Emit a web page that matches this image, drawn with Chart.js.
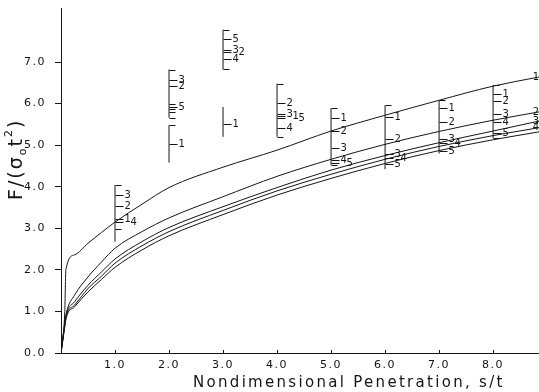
<!DOCTYPE html>
<html>
<head>
<meta charset="utf-8">
<script src="https://cdn.jsdelivr.net/npm/chart.js@4/dist/chart.umd.min.js"></script>
<style>
html, body { margin: 0; padding: 0; background: #fff; }
#wrap { width: 539px; height: 392px; }
</style>
</head>
<body>
<div id="wrap"><canvas id="penChart"></canvas></div>
<script>
// curve 1 rises almost vertically near the origin, so it has its own x list
const curve1X = [0, 0.07, 0.09, 0.25, 0.5, 0.75, 1, 1.5, 2, 3, 4, 5, 6, 7, 8, 8.85];
const curve1Y = [0, 1.0, 2.0, 2.36, 2.64, 2.9, 3.15, 3.58, 3.98, 4.47, 4.88, 5.34, 5.72, 6.08, 6.42, 6.64];

const curveX  = [0, 0.05, 0.1, 0.25, 0.5, 0.75, 1, 1.5, 2, 3, 4, 5, 6, 7, 8, 8.85];
const curve2Y = [0, 0.55, 0.97, 1.39, 1.83, 2.19, 2.52, 2.92, 3.25, 3.76, 4.25, 4.66, 5.02, 5.33, 5.6, 5.8];
const curve3Y = [0, 0.5, 0.93, 1.23, 1.63, 1.95, 2.26, 2.68, 3.02, 3.52, 3.98, 4.4, 4.75, 5.06, 5.34, 5.58];
const curve4Y = [0, 0.48, 0.9, 1.15, 1.55, 1.85, 2.16, 2.58, 2.92, 3.43, 3.9, 4.3, 4.66, 4.97, 5.23, 5.42];
const curve5Y = [0, 0.45, 0.86, 1.11, 1.47, 1.77, 2.06, 2.48, 2.82, 3.33, 3.8, 4.2, 4.56, 4.87, 5.13, 5.32];
const curveNames = ['1', '2', '3', '4', ''];

// measured scatter ranges at each penetration
const rangeX  = [1, 2, 2, 3, 3, 4, 5, 6, 7, 8];
const rangeLo = [2.68, 5.66, 4.58, 6.82, 5.2, 5.2, 4.52, 4.42, 4.8, 5.17];
const rangeHi = [4.04, 6.82, 5.48, 7.78, 5.92, 6.48, 5.89, 5.96, 6.08, 6.44];

// tick marks on the ranges, with case number
const markX = [1, 1, 1, 1, 1, 1,
  2, 2, 2, 2, 2, 2, 2, 2, 2, 2,
  3, 3, 3, 3, 3, 3, 3,
  4, 4, 4, 4, 4, 4, 4,
  5, 5, 5, 5, 5, 5, 5,
  6, 6, 6, 6, 6, 6,
  7, 7, 7, 7, 7, 7,
  8, 8, 8, 8, 8, 8, 8];
const markY = [4.04, 3.81, 3.53, 3.22, 3.14, 2.98,
  6.82, 6.56, 6.42, 6.0, 5.93, 5.87, 5.8, 5.66, 5.48, 5.02,
  7.76, 7.55, 7.3, 7.24, 7.08, 6.84, 5.52,
  6.47, 6.02, 5.76, 5.7, 5.66, 5.42, 5.2,
  5.89, 5.65, 5.33, 4.92, 4.64, 4.58, 4.52,
  5.96, 5.68, 5.16, 4.78, 4.68, 4.55,
  6.08, 5.9, 5.56, 5.14, 5.06, 4.86,
  6.44, 6.24, 6.06, 5.74, 5.56, 5.3, 5.17];
const markText = ['', '3', '2', '1', '4', '',
  '', '3', '2', '', '5', '', '', '', '', '1',
  '', '5', '3', '2', '4', '', '1',
  '', '2', '3', '1', '5', '4', '',
  '', '1', '2', '3', '4', '5', '',
  '', '1', '2', '3', '4', '5',
  '', '1', '2', '3', '4', '5',
  '', '1', '2', '3', '4', '5', ''];

const xTicks = [1, 2, 3, 4, 5, 6, 7, 8];
const yTicks = [0, 1, 2, 3, 4, 5, 6, 7];

const ink = '#151515';

function curve(xs, ys) {
    return {
        data: xs.map((x, i) => ({ x: x, y: ys[i] })),
        showLine: true,
        borderColor: ink,
        borderWidth: 1,
        pointRadius: 0,
        cubicInterpolationMode: 'monotone',
    };
}

const datasets = [
    curve(curve1X, curve1Y),
    curve(curveX, curve2Y),
    curve(curveX, curve3Y),
    curve(curveX, curve4Y),
    curve(curveX, curve5Y),
];
rangeX.forEach((x, i) => {
    datasets.push({
        data: [{ x: x, y: rangeLo[i] }, { x: x, y: rangeHi[i] }],
        showLine: true,
        borderColor: ink,
        borderWidth: 1,
        pointRadius: 0,
    });
});

const annotate = {
    id: 'annotate',
    beforeDraw(chart) {
        chart.ctx.letterSpacing = '1.5px';
    },
    afterDatasetsDraw(chart) {
        const { ctx, chartArea, scales: { x, y } } = chart;
        ctx.save();
        ctx.strokeStyle = ink;
        ctx.fillStyle = ink;
        ctx.lineWidth = 1;
        ctx.letterSpacing = '0px';
        ctx.font = '10px "DejaVu Sans"';
        ctx.textBaseline = 'middle';
        ctx.textAlign = 'left';

        // small ticks on the x axis, pointing up
        xTicks.forEach(v => {
            const px = Math.round(x.getPixelForValue(v)) + 0.5;
            ctx.beginPath();
            ctx.moveTo(px, chartArea.bottom);
            ctx.lineTo(px, chartArea.bottom - 3);
            ctx.stroke();
        });

        // range ticks and case numbers
        let lastX = null, lastY = null, shift = 0;
        markX.forEach((mx, i) => {
            const px = Math.round(x.getPixelForValue(mx)) + 0.5;
            const py = Math.round(y.getPixelForValue(markY[i])) + 0.5;
            const len = markText[i] ? 8 : 6;
            ctx.beginPath();
            ctx.moveTo(px, py);
            ctx.lineTo(px + len, py);
            ctx.stroke();
            if (!markText[i]) return;
            if (mx === lastX && Math.abs(markY[i] - lastY) < 0.12) shift += 6;
            else shift = 0;
            ctx.fillText(markText[i], px + len + 1 + shift, py);
            lastX = mx;
            lastY = markY[i];
        });

        // curve numbers at the right edge
        ctx.textAlign = 'right';
        [curve1Y, curve2Y, curve3Y, curve4Y, curve5Y].forEach((ys, i) => {
            if (!curveNames[i]) return;
            const py = y.getPixelForValue(ys[ys.length - 1]);
            ctx.fillText(curveNames[i], chartArea.right, py);
        });
        ctx.restore();
    },
    afterDraw(chart) {
        const { ctx } = chart;
        ctx.save();
        ctx.fillStyle = ink;
        ctx.textAlign = 'left';
        ctx.textBaseline = 'alphabetic';

        // x title
        ctx.font = '15px "DejaVu Sans"';
        ctx.letterSpacing = '2.3px';
        ctx.fillText('Nondimensional Penetration, s/t', 193, 387);

        // y title, F/(sigma_o t^2)
        ctx.translate(22, 200);
        ctx.rotate(-Math.PI / 2);
        ctx.letterSpacing = '2px';
        let cx = 0;
        const part = (t, size, dy) => {
            ctx.font = size + 'px "DejaVu Sans"';
            ctx.fillText(t, cx, dy);
            cx += ctx.measureText(t).width;
        };
        part('F/(σ', 19, 0);
        part('o', 11, 4);
        part('t', 19, 0);
        part('2', 11, -10);
        part(')', 19, 0);
        ctx.restore();
    },
};

const ctxPen = document.getElementById('penChart').getContext('2d');
const penChart = new Chart(ctxPen, {
    type: 'scatter',
    data: { datasets: datasets },
    plugins: [annotate],
    options: {
        responsive: true,
        maintainAspectRatio: false,
        animation: false,
        layout: { padding: { top: 8, right: 0, bottom: 0, left: 0 } },
        plugins: {
            legend: { display: false },
            tooltip: { enabled: false },
        },
        scales: {
            x: {
                type: 'linear',
                min: 0,
                max: 8.85,
                border: { color: ink, width: 1 },
                grid: { display: false, drawTicks: false },
                afterBuildTicks: scale => {
                    scale.ticks = xTicks.map(v => ({ value: v }));
                },
                afterFit: scale => {
                    scale.height = 39;
                    scale.paddingLeft = 0;
                    scale.paddingRight = 0;
                },
                ticks: {
                    includeBounds: false,
                    padding: 6,
                    maxRotation: 0,
                    color: '#111',
                    font: { family: 'DejaVu Sans', size: 11 },
                    callback: v => Number(v).toFixed(1),
                },
            },
            y: {
                type: 'linear',
                min: 0,
                max: 8.3,
                border: { color: ink, width: 1 },
                grid: {
                    display: true,
                    drawOnChartArea: false,
                    drawTicks: true,
                    tickLength: 6,
                    color: ink,
                },
                afterBuildTicks: scale => {
                    scale.ticks = yTicks.map(v => ({ value: v }));
                },
                afterFit: scale => {
                    scale.width = 61;
                    scale.paddingTop = 0;
                    scale.paddingBottom = 0;
                },
                ticks: {
                    includeBounds: false,
                    padding: 9,
                    color: '#111',
                    font: { family: 'DejaVu Sans', size: 11 },
                    callback: v => Number(v).toFixed(1),
                },
            },
        },
    },
});
</script>
</body>
</html>
